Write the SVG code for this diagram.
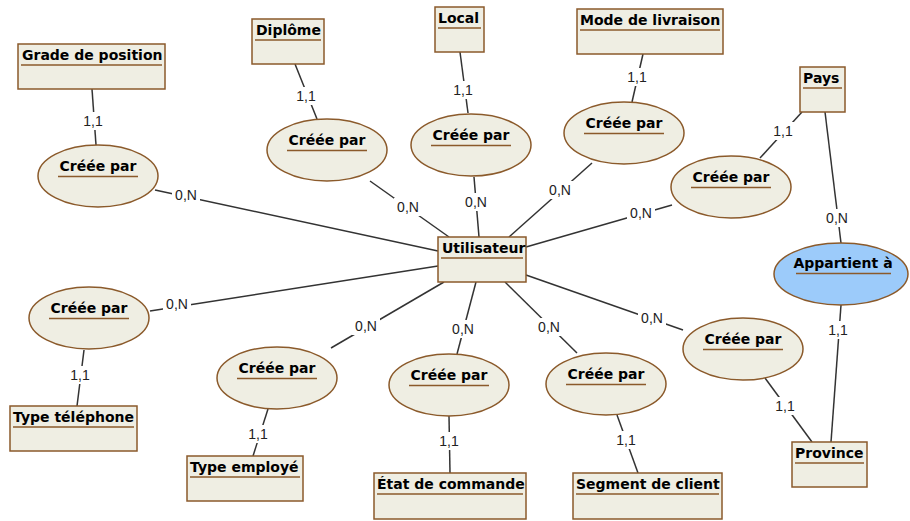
<svg xmlns="http://www.w3.org/2000/svg" width="910" height="521" viewBox="0 0 910 521">
  <style>
    .ent { fill: #efeee3; stroke: #8b5a2b; stroke-width: 1.5; }
    .rel { fill: #efeee3; stroke: #8b5a2b; stroke-width: 1.5; }
    .rel-blue { fill: #9ccbfa; stroke: #8b5a2b; stroke-width: 1.5; }
    .sep { stroke: #8b5a2b; stroke-width: 1.5; }
    .title { font-family: "DejaVu Sans", Verdana, sans-serif; font-weight: bold; font-size: 14px; fill: #000; }
    .rtitle { font-family: "DejaVu Sans", Verdana, sans-serif; font-weight: bold; font-size: 14px; fill: #000; text-anchor: middle; }
    .link { stroke: #333; stroke-width: 1.5; fill: none; }
    .gap { fill: #fff; }
    .card { font-family: "Liberation Sans", Arial, sans-serif; font-size: 14px; fill: #222; text-anchor: middle; }
  </style>

  <rect width="910" height="521" fill="#fff"/>

  <!-- links between entities and associations -->
  <g id="connectors">
    <line class="link" x1="155" y1="190" x2="438" y2="251"/>
    <line class="link" x1="370" y1="181" x2="449" y2="237"/>
    <line class="link" x1="474" y1="177" x2="479" y2="237"/>
    <line class="link" x1="592" y1="163" x2="509" y2="237"/>
    <line class="link" x1="672" y1="205" x2="526" y2="247"/>
    <line class="link" x1="150" y1="311" x2="438" y2="266"/>
    <line class="link" x1="444" y1="282" x2="331" y2="348"/>
    <line class="link" x1="476" y1="282" x2="457" y2="354"/>
    <line class="link" x1="505" y1="282" x2="577" y2="353"/>
    <line class="link" x1="526" y1="275" x2="683" y2="330"/>
    <line class="link" x1="92" y1="89" x2="96" y2="145"/>
    <line class="link" x1="295" y1="64" x2="317" y2="119"/>
    <line class="link" x1="460" y1="52" x2="468" y2="113"/>
    <line class="link" x1="643" y1="54" x2="632" y2="102"/>
    <line class="link" x1="802" y1="112" x2="760" y2="158"/>
    <line class="link" x1="825" y1="112" x2="841" y2="243"/>
    <line class="link" x1="841" y1="305" x2="831" y2="442"/>
    <line class="link" x1="765" y1="378" x2="812" y2="442"/>
    <line class="link" x1="84" y1="350" x2="77" y2="406"/>
    <line class="link" x1="268" y1="409" x2="253" y2="456"/>
    <line class="link" x1="449" y1="416" x2="450" y2="473"/>
    <line class="link" x1="617" y1="415" x2="638" y2="473"/>

    <!-- cardinality labels, each on a white patch that breaks its line -->
    <rect class="gap" x="172" y="186" width="28" height="18"/>
    <text class="card" x="186" y="200">0,N</text>
    <rect class="gap" x="394" y="198" width="28" height="18"/>
    <text class="card" x="408" y="212">0,N</text>
    <rect class="gap" x="462" y="193" width="28" height="18"/>
    <text class="card" x="476" y="207">0,N</text>
    <rect class="gap" x="546" y="181" width="28" height="18"/>
    <text class="card" x="560" y="195">0,N</text>
    <rect class="gap" x="627" y="204" width="28" height="18"/>
    <text class="card" x="641" y="218">0,N</text>
    <rect class="gap" x="163" y="295" width="28" height="18"/>
    <text class="card" x="177" y="309">0,N</text>
    <rect class="gap" x="352" y="317" width="28" height="18"/>
    <text class="card" x="366" y="331">0,N</text>
    <rect class="gap" x="449" y="320" width="28" height="18"/>
    <text class="card" x="463" y="334">0,N</text>
    <rect class="gap" x="535" y="318" width="28" height="18"/>
    <text class="card" x="549" y="332">0,N</text>
    <rect class="gap" x="638" y="309" width="28" height="18"/>
    <text class="card" x="652" y="323">0,N</text>
    <rect class="gap" x="81" y="112" width="24" height="18"/>
    <text class="card" x="93" y="126">1,1</text>
    <rect class="gap" x="294" y="87" width="24" height="18"/>
    <text class="card" x="306" y="101">1,1</text>
    <rect class="gap" x="451" y="81" width="24" height="18"/>
    <text class="card" x="463" y="95">1,1</text>
    <rect class="gap" x="625" y="68" width="24" height="18"/>
    <text class="card" x="637" y="82">1,1</text>
    <rect class="gap" x="771" y="122" width="24" height="18"/>
    <text class="card" x="783" y="136">1,1</text>
    <rect class="gap" x="823" y="209" width="28" height="18"/>
    <text class="card" x="837" y="223">0,N</text>
    <rect class="gap" x="826" y="321" width="24" height="18"/>
    <text class="card" x="838" y="335">1,1</text>
    <rect class="gap" x="773" y="397" width="24" height="18"/>
    <text class="card" x="785" y="411">1,1</text>
    <rect class="gap" x="68" y="366" width="24" height="18"/>
    <text class="card" x="80" y="380">1,1</text>
    <rect class="gap" x="246" y="425" width="24" height="18"/>
    <text class="card" x="258" y="439">1,1</text>
    <rect class="gap" x="437" y="432" width="24" height="18"/>
    <text class="card" x="449" y="446">1,1</text>
    <rect class="gap" x="614" y="431" width="24" height="18"/>
    <text class="card" x="626" y="445">1,1</text>
  </g>

  <!-- entities -->
  <g id="utilisateur">
    <rect class="ent" x="438" y="237" width="88" height="45"/>
    <text class="title" x="442" y="253">Utilisateur</text>
    <line class="sep" x1="441" y1="258" x2="523" y2="258"/>
  </g>
  <g id="grade-de-position">
    <rect class="ent" x="18" y="44" width="147" height="45"/>
    <text class="title" x="22" y="60">Grade de position</text>
    <line class="sep" x1="21" y1="65" x2="162" y2="65"/>
  </g>
  <g id="diplome">
    <rect class="ent" x="252" y="19" width="72" height="45"/>
    <text class="title" x="256" y="35">Diplôme</text>
    <line class="sep" x1="255" y1="40" x2="321" y2="40"/>
  </g>
  <g id="local">
    <rect class="ent" x="435" y="7" width="49" height="45"/>
    <text class="title" x="438" y="23">Local</text>
    <line class="sep" x1="438" y1="28" x2="481" y2="28"/>
  </g>
  <g id="mode-de-livraison">
    <rect class="ent" x="577" y="9" width="146" height="45"/>
    <text class="title" x="580" y="25">Mode de livraison</text>
    <line class="sep" x1="580" y1="30" x2="720" y2="30"/>
  </g>
  <g id="pays">
    <rect class="ent" x="800" y="67" width="45" height="45"/>
    <text class="title" x="803" y="83">Pays</text>
    <line class="sep" x1="803" y1="88" x2="842" y2="88"/>
  </g>
  <g id="province">
    <rect class="ent" x="792" y="442" width="75" height="45"/>
    <text class="title" x="795" y="458">Province</text>
    <line class="sep" x1="795" y1="463" x2="864" y2="463"/>
  </g>
  <g id="type-telephone">
    <rect class="ent" x="10" y="406" width="127" height="45"/>
    <text class="title" x="13" y="422">Type téléphone</text>
    <line class="sep" x1="13" y1="427" x2="134" y2="427"/>
  </g>
  <g id="type-employe">
    <rect class="ent" x="187" y="456" width="116" height="45"/>
    <text class="title" x="190" y="472">Type employé</text>
    <line class="sep" x1="190" y1="477" x2="300" y2="477"/>
  </g>
  <g id="etat-de-commande">
    <rect class="ent" x="374" y="473" width="152" height="46"/>
    <text class="title" x="377" y="489">État de commande</text>
    <line class="sep" x1="377" y1="494" x2="523" y2="494"/>
  </g>
  <g id="segment-de-client">
    <rect class="ent" x="573" y="473" width="149" height="46"/>
    <text class="title" x="576" y="489">Segment de client</text>
    <line class="sep" x1="576" y1="494" x2="719" y2="494"/>
  </g>

  <!-- associations -->
  <g id="creee-par-grade">
    <ellipse class="rel" cx="98" cy="176" rx="60" ry="31"/>
    <text class="rtitle" x="98" y="171">Créée par</text>
    <line class="sep" x1="58" y1="176.5" x2="138" y2="176.5"/>
  </g>
  <g id="creee-par-diplome">
    <ellipse class="rel" cx="327" cy="150" rx="60" ry="31"/>
    <text class="rtitle" x="327" y="145">Créée par</text>
    <line class="sep" x1="287" y1="150.5" x2="367" y2="150.5"/>
  </g>
  <g id="creee-par-local">
    <ellipse class="rel" cx="471" cy="145" rx="60" ry="31"/>
    <text class="rtitle" x="471" y="140">Créée par</text>
    <line class="sep" x1="431" y1="145.5" x2="511" y2="145.5"/>
  </g>
  <g id="creee-par-livraison">
    <ellipse class="rel" cx="624" cy="133" rx="60" ry="31"/>
    <text class="rtitle" x="624" y="128">Créée par</text>
    <line class="sep" x1="584" y1="133.5" x2="664" y2="133.5"/>
  </g>
  <g id="creee-par-pays">
    <ellipse class="rel" cx="731" cy="187" rx="60" ry="31"/>
    <text class="rtitle" x="731" y="182">Créée par</text>
    <line class="sep" x1="691" y1="187.5" x2="771" y2="187.5"/>
  </g>
  <g id="creee-par-telephone">
    <ellipse class="rel" cx="89" cy="318" rx="60" ry="31"/>
    <text class="rtitle" x="89" y="313">Créée par</text>
    <line class="sep" x1="49" y1="318.5" x2="129" y2="318.5"/>
  </g>
  <g id="creee-par-employe">
    <ellipse class="rel" cx="277" cy="378" rx="60" ry="31"/>
    <text class="rtitle" x="277" y="373">Créée par</text>
    <line class="sep" x1="237" y1="378.5" x2="317" y2="378.5"/>
  </g>
  <g id="creee-par-commande">
    <ellipse class="rel" cx="449" cy="385" rx="60" ry="31"/>
    <text class="rtitle" x="449" y="380">Créée par</text>
    <line class="sep" x1="409" y1="385.5" x2="489" y2="385.5"/>
  </g>
  <g id="creee-par-segment">
    <ellipse class="rel" cx="606" cy="384" rx="60" ry="31"/>
    <text class="rtitle" x="606" y="379">Créée par</text>
    <line class="sep" x1="566" y1="384.5" x2="646" y2="384.5"/>
  </g>
  <g id="creee-par-province">
    <ellipse class="rel" cx="743" cy="349" rx="60" ry="31"/>
    <text class="rtitle" x="743" y="344">Créée par</text>
    <line class="sep" x1="703" y1="349.5" x2="783" y2="349.5"/>
  </g>
  <g id="appartient-a">
    <ellipse class="rel-blue" cx="841" cy="274" rx="67" ry="31"/>
    <text class="rtitle" x="843" y="268">Appartient à</text>
    <line class="sep" x1="796" y1="273.5" x2="891" y2="273.5"/>
  </g>
</svg>
